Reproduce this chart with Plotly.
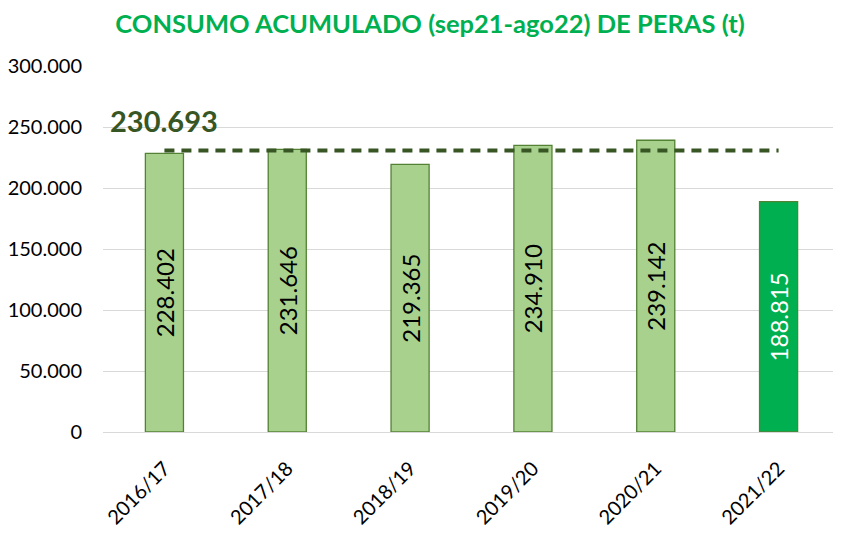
import plotly.graph_objects as go

categories = ["2016/17", "2017/18", "2018/19", "2019/20", "2020/21", "2021/22"]
values = [228402, 231646, 219365, 234910, 239142, 188815]
average = 230693
avg_label = "230.693"
title = "CONSUMO ACUMULADO (sep21-ago22) DE PERAS (t)"

FONT = "Lato"
bar_colors = ["#A9D18E"] * 5 + ["#00B050"]
text_colors = ["#000000"] * 5 + ["#FFFFFF"]

# page body adds an 8px offset; figure is sized to fill the rest of the window
W, H = 833, 532

fig = go.Figure()
fig.add_trace(go.Bar(
    x=categories, y=values,
    marker=dict(color=bar_colors, line=dict(color="#548235", width=1.3)),
    width=0.31,
    texttemplate="%{y:,.0f}",
    textposition="inside",
    insidetextanchor="middle",
    textangle=-90,
    textfont=dict(family=FONT, size=24, color=text_colors),
    constraintext="none",
    hoverinfo="skip",
))
fig.add_trace(go.Scatter(
    x=categories, y=[average] * len(categories),
    mode="lines",
    line=dict(color="#375623", width=4, dash="10px,7px"),
    hoverinfo="skip",
))
fig.add_annotation(
    x=0, y=average, xref="x", yref="y",
    text=f"<b>{avg_label}</b>",
    showarrow=False, xanchor="center", yanchor="middle",
    yshift=30,
    font=dict(family=FONT, size=29, color="#375623"),
)

fig.update_layout(
    width=W, height=H,
    margin=dict(l=95, r=1, t=58, b=108),
    paper_bgcolor="white", plot_bgcolor="white",
    separators=",.",
    showlegend=False,
    bargap=0.69,
    title=dict(
        text=f"<b>{title}</b>",
        x=422 / W, xanchor="center", y=1 - 16 / H, yanchor="middle",
        font=dict(family=FONT, size=25.5, color="#00B050"),
    ),
    font=dict(family=FONT, color="#000000"),
)
fig.update_yaxes(
    range=[0, 300000], dtick=50000, tickformat=",",
    showgrid=True, gridcolor="#D9D9D9", gridwidth=1,
    zeroline=True, zerolinecolor="#D9D9D9", zerolinewidth=1,
    showline=False, ticks="",
    tickfont=dict(family=FONT, size=20, color="#000000"),
    ticklabelstandoff=20,
)
fig.update_xaxes(
    tickangle=-45, showline=False, ticks="",
    tickfont=dict(family=FONT, size=20, color="#000000"),
    ticklabelstandoff=20,
)

fig.write_html("out.html")
